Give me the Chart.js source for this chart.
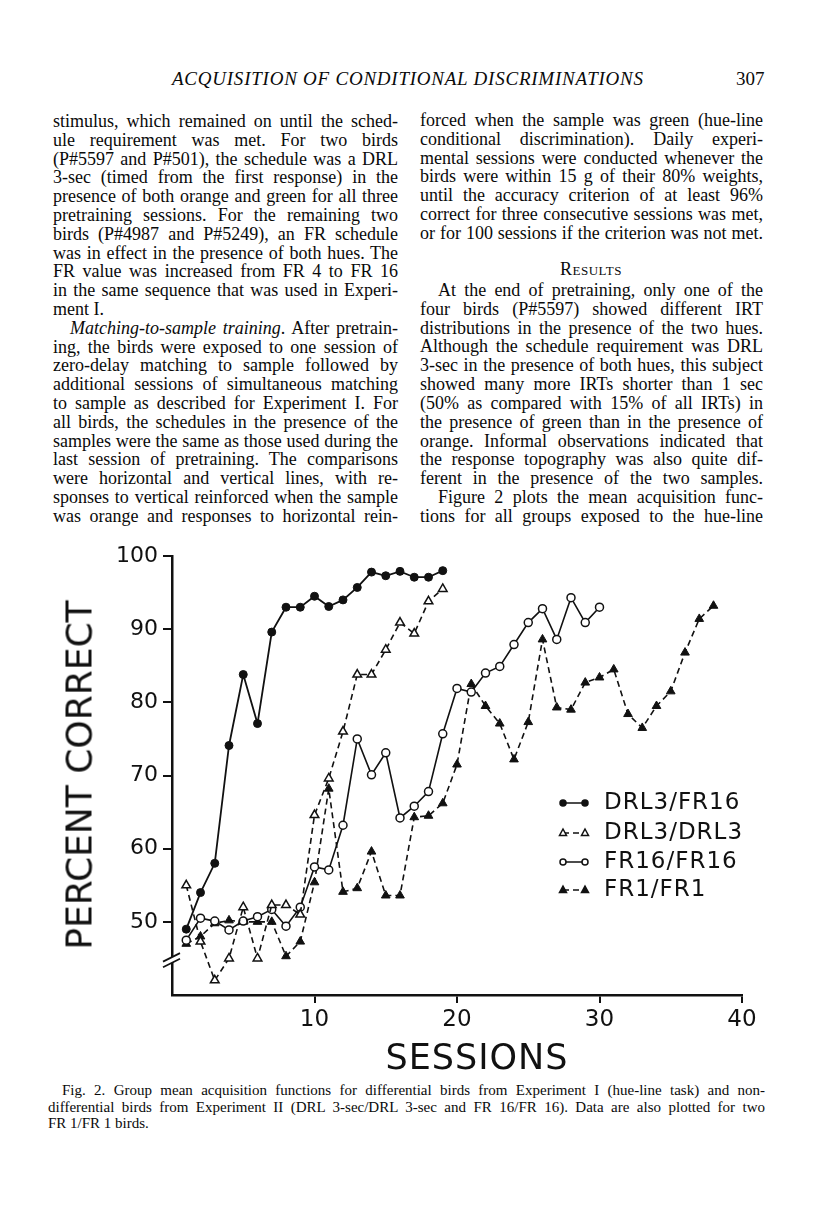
<!DOCTYPE html>
<html>
<head>
<meta charset="utf-8">
<script src="https://cdn.jsdelivr.net/npm/chart.js@4.4.1/dist/chart.umd.min.js"></script>
<style>
  body { margin: 0; background: #fff; }
  #page { position: relative; width: 816px; height: 1207px; overflow: hidden; color: #0a0a0a; }
  .ln { position: absolute; white-space: pre; font-family: "Liberation Serif", serif; font-size: 18px; line-height: 19px; }
  .cap { font-size: 15px; line-height: 15px; }
  .head { font-style: italic; font-size: 19px; line-height: 20px; }
  .sc { font-variant: small-caps; font-size: 18px; }
  #chart { position: absolute; left: 0; top: 530px; }
  .ttl { position: absolute; font-family: "DejaVu Sans", sans-serif; color: #111; white-space: pre; }
</style>
</head>
<body>
<div id="page">
  <canvas id="chart" width="816" height="550"></canvas>
  <div class="ttl" id="ytitle" style="font-size:36px; left:79px; top:775px; transform: translate(-50%,-50%) rotate(-90deg);">PERCENT CORRECT</div>
  <div class="ttl" id="xtitle" style="font-size:35px; left:477px; top:1057px; letter-spacing:1px; transform: translate(-50%,-50%);">SESSIONS</div>
</div>
<script>
// data
const sessions = [1, 2, 3, 4, 5, 6, 7, 8, 9, 10, 11, 12, 13, 14, 15, 16, 17, 18, 19, 20,
  21, 22, 23, 24, 25, 26, 27, 28, 29, 30, 31, 32, 33, 34, 35, 36, 37, 38];
const drlFr16 = [49, 54, 58, 74.1, 83.8, 77.1, 89.6, 93, 93, 94.5, 93.1, 94, 95.7, 97.8, 97.3, 97.9, 97.1, 97.1, 98];
const drlDrl3 = [55, 47.3, 42, 45, 52, 45, 52.3, 52.3, 51, 64.6, 69.6, 76, 83.8, 83.8, 87.2, 90.9, 89.4, 93.8, 95.5];
const fr16Fr16 = [47.5, 50.5, 50.1, 48.9, 50.1, 50.7, 51.7, 49.4, 52, 57.5, 57.1, 63.2, 75, 70.1, 73.1, 64.2, 65.8, 67.8, 75.7, 81.9,
  81.4, 84, 84.9, 87.9, 90.9, 92.8, 88.6, 94.3, 90.9, 93];
const fr1Fr1 = [47, 48, 49.8, 50.2, 50, 50, 50, 45.3, 47.3, 55.4, 68.2, 54.1, 54.6, 59.6, 53.6, 53.6, 64.3, 64.5, 66.2, 71.5,
  82.5, 79.5, 77.1, 72.2, 77.3, 88.6, 79.3, 79, 82.7, 83.4, 84.5, 78.4, 76.5, 79.5, 81.5, 86.8, 91.4, 93.2];
const seriesNames = ['DRL3/FR16', 'DRL3/DRL3', 'FR16/FR16', 'FR1/FR1'];
const yTicks = [50, 60, 70, 80, 90, 100];
const xTicks = [10, 20, 30, 40];

const page = document.getElementById('page');

// text lines, each one placed and justified to the column width
function addLine(html, x, y, w, justify, cls) {
  const d = document.createElement('div');
  d.className = 'ln ' + (cls || '');
  d.style.left = x + 'px';
  d.style.top = y + 'px';
  d.innerHTML = html;
  page.appendChild(d);
  if (justify) {
    const nat = d.getBoundingClientRect().width;
    const spaces = (d.textContent.match(/ /g) || []).length;
    if (spaces) d.style.wordSpacing = ((w - nat) / spaces) + 'px';
  }
  return d;
}

const leftText = [
  'stimulus, which remained on until the sched-',
  'ule requirement was met. For two birds',
  '(P#5597 and P#501), the schedule was a DRL',
  '3-sec (timed from the first response) in the',
  'presence of both orange and green for all three',
  'pretraining sessions. For the remaining two',
  'birds (P#4987 and P#5249), an FR schedule',
  'was in effect in the presence of both hues. The',
  'FR value was increased from FR 4 to FR 16',
  'in the same sequence that was used in Experi-',
  'ment I.',
  '<i>Matching-to-sample training</i>. After pretrain-',
  'ing, the birds were exposed to one session of',
  'zero-delay matching to sample followed by',
  'additional sessions of simultaneous matching',
  'to sample as described for Experiment I. For',
  'all birds, the schedules in the presence of the',
  'samples were the same as those used during the',
  'last session of pretraining. The comparisons',
  'were horizontal and vertical lines, with re-',
  'sponses to vertical reinforced when the sample',
  'was orange and responses to horizontal rein-'
];
leftText.forEach((t, i) => {
  const indent = i === 11 ? 17 : 0;
  addLine(t, 53 + indent, 112 + i * 18.8, 345 - indent, i !== 10);
});

const rightTop = [
  'forced when the sample was green (hue-line',
  'conditional discrimination). Daily experi-',
  'mental sessions were conducted whenever the',
  'birds were within 15 g of their 80% weights,',
  'until the accuracy criterion of at least 96%',
  'correct for three consecutive sessions was met,',
  'or for 100 sessions if the criterion was not met.'
];
rightTop.forEach((t, i) => addLine(t, 420, 111 + i * 18.8, 343, true));

const res = addLine('Results', 0, 260, 0, false, 'sc');
res.style.letterSpacing = '0.5px';
res.style.left = (591 - res.getBoundingClientRect().width / 2) + 'px';

const rightBottom = [
  'At the end of pretraining, only one of the',
  'four birds (P#5597) showed different IRT',
  'distributions in the presence of the two hues.',
  'Although the schedule requirement was DRL',
  '3-sec in the presence of both hues, this subject',
  'showed many more IRTs shorter than 1 sec',
  '(50% as compared with 15% of all IRTs) in',
  'the presence of green than in the presence of',
  'orange. Informal observations indicated that',
  'the response topography was also quite dif-',
  'ferent in the presence of the two samples.',
  'Figure 2 plots the mean acquisition func-',
  'tions for all groups exposed to the hue-line'
];
rightBottom.forEach((t, i) => {
  const indent = (i === 0 || i === 11) ? 18 : 0;
  addLine(t, 420 + indent, 281 + i * 18.83, 343 - indent, true);
});

// running head
const head = addLine('ACQUISITION OF CONDITIONAL DISCRIMINATIONS', 172, 69, 0, false, 'head');
const hw = head.getBoundingClientRect().width;
head.style.letterSpacing = ((471 - hw) / 41) + 'px';
const pg = addLine('307', 736, 69, 0, false, 'head');
pg.style.fontStyle = 'normal';

// caption
const caption = [
  'Fig. 2. Group mean acquisition functions for differential birds from Experiment I (hue-line task) and non-',
  'differential birds from Experiment II (DRL 3-sec/DRL 3-sec and FR 16/FR 16). Data are also plotted for two',
  'FR 1/FR 1 birds.'
];
caption.forEach((t, i) => {
  const indent = i === 0 ? 14 : 0;
  addLine(t, 48 + indent, 1083 + i * 16.5, 717 - indent, i < 2, 'cap');
});

// chart
const xy = vals => vals.map((v, i) => ({ x: sessions[i], y: v }));

const axisBreak = {
  id: 'axisBreak',
  afterDraw(chart) {
    const { ctx, chartArea, scales } = chart;
    const px = chartArea.left;
    const py = scales.y.getPixelForValue(44.8);
    ctx.save();
    ctx.strokeStyle = '#fff';
    ctx.lineWidth = 5;
    ctx.beginPath(); ctx.moveTo(px - 6, py + 3); ctx.lineTo(px + 6, py - 3); ctx.stroke();
    ctx.strokeStyle = '#111';
    ctx.lineWidth = 1.8;
    [-2.8, 2.8].forEach(o => {
      ctx.beginPath(); ctx.moveTo(px - 9, py + 4.5 + o); ctx.lineTo(px + 8, py - 4 + o); ctx.stroke();
    });
    ctx.restore();
  }
};

const legendBox = {
  id: 'legendBox',
  afterDraw(chart) {
    const { ctx } = chart;
    const rows = [273, 303, 332, 360];
    ctx.save();
    chart.data.datasets.forEach((ds, i) => {
      const y = rows[i];
      ctx.strokeStyle = '#111';
      ctx.lineWidth = 1.5;
      ctx.setLineDash(ds.borderDash || []);
      ctx.beginPath(); ctx.moveTo(563, y); ctx.lineTo(585, y); ctx.stroke();
      ctx.setLineDash([]);
      [563, 585].forEach(x => {
        ctx.fillStyle = ds.pointBackgroundColor;
        ctx.beginPath();
        if (ds.pointStyle === 'triangle') {
          ctx.moveTo(x, y - 4); ctx.lineTo(x + 3.5, y + 2.5); ctx.lineTo(x - 3.5, y + 2.5); ctx.closePath();
        } else {
          ctx.arc(x, y, 3, 0, Math.PI * 2);
        }
        ctx.fill(); ctx.stroke();
      });
      ctx.fillStyle = '#111';
      ctx.font = '23px "DejaVu Sans"';
      ctx.letterSpacing = '1px';
      ctx.textBaseline = 'middle';
      ctx.fillText(ds.label, 604, y);
    });
    ctx.restore();
  }
};

new Chart(document.getElementById('chart'), {
  type: 'line',
  data: {
    datasets: [{
      label: seriesNames[0],
      data: xy(drlFr16),
      borderColor: '#111',
      borderWidth: 1.8,
      pointStyle: 'circle',
      pointRadius: 4,
      pointBackgroundColor: '#111',
      pointBorderColor: '#111',
      pointBorderWidth: 1
    }, {
      label: seriesNames[1],
      data: xy(drlDrl3),
      borderColor: '#111',
      borderWidth: 1.6,
      borderDash: [6, 4],
      pointStyle: 'triangle',
      pointRadius: 5,
      pointBackgroundColor: '#fff',
      pointBorderColor: '#111',
      pointBorderWidth: 1.5
    }, {
      label: seriesNames[2],
      data: xy(fr16Fr16),
      borderColor: '#111',
      borderWidth: 1.6,
      pointStyle: 'circle',
      pointRadius: 4,
      pointBackgroundColor: '#fff',
      pointBorderColor: '#111',
      pointBorderWidth: 1.5
    }, {
      label: seriesNames[3],
      data: xy(fr1Fr1),
      borderColor: '#111',
      borderWidth: 1.6,
      borderDash: [6, 4],
      pointStyle: 'triangle',
      pointRadius: 5,
      pointBackgroundColor: '#111',
      pointBorderColor: '#111',
      pointBorderWidth: 1
    }]
  },
  options: {
    responsive: false,
    animation: false,
    devicePixelRatio: 1,
    layout: { padding: { left: 112, right: 74, top: 26, bottom: 35 } },
    plugins: { legend: { display: false }, tooltip: { enabled: false } },
    scales: {
      x: {
        type: 'linear',
        min: 0,
        max: 40,
        afterFit(scale) { scale.height = 50; },
        afterBuildTicks(scale) { scale.ticks = [0].concat(xTicks).map(v => ({ value: v })); },
        ticks: {
          autoSkip: false,
          maxRotation: 0,
          padding: 3,
          color: '#111',
          font: { family: 'DejaVu Sans', size: 23 },
          callback: v => xTicks.includes(v) ? String(v) : ''
        },
        grid: {
          drawOnChartArea: false,
          tickLength: 8,
          lineWidth: 2,
          color: c => (c.tick && c.tick.value === 0) ? 'rgba(0,0,0,0)' : '#111'
        },
        border: { display: true, color: '#111', width: 2.5 }
      },
      y: {
        type: 'linear',
        min: 40,
        max: 100,
        afterFit(scale) { scale.width = 60; },
        afterBuildTicks(scale) { scale.ticks = [40].concat(yTicks).map(v => ({ value: v })); },
        ticks: {
          autoSkip: false,
          padding: 5,
          color: '#111',
          font: { family: 'DejaVu Sans', size: 22 },
          callback: v => yTicks.includes(v) ? String(v) : ''
        },
        grid: {
          drawOnChartArea: false,
          tickLength: 9,
          lineWidth: 2,
          color: c => (c.tick && c.tick.value === 40) ? 'rgba(0,0,0,0)' : '#111'
        },
        border: { display: true, color: '#111', width: 2.5 }
      }
    }
  },
  plugins: [axisBreak, legendBox]
});
</script>
</body>
</html>
